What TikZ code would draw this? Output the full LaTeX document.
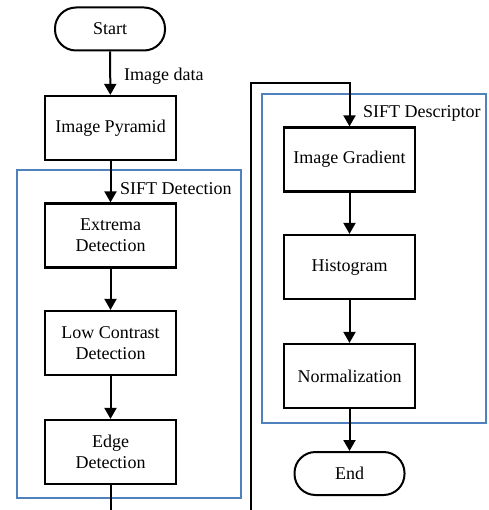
\documentclass[tikz,border=0pt]{standalone}
\usepackage{fontspec}
\setmainfont{Liberation Serif}
\usetikzlibrary{arrows.meta}
\definecolor{groupblue}{RGB}{79,129,189}
\tikzset{
  stepbox/.style={draw=black, line width=2.2pt, minimum width=131pt, minimum height=64pt,
    align=center, inner sep=0pt, font=\fontsize{18}{21}\selectfont},
  terminal/.style={draw=black, line width=2pt, rounded corners=21pt, minimum width=110pt,
    minimum height=43pt, inner sep=0pt, font=\fontsize{18}{21}\selectfont},
  group/.style={draw=groupblue, line width=2pt},
  flow/.style={line width=2pt, -{Triangle[length=11pt,width=12pt]}},
  wire/.style={line width=2pt},
  note/.style={inner sep=0pt, anchor=base west, font=\fontsize{18}{21}\selectfont}
}
\begin{document}
\begin{tikzpicture}[x=1pt,y=-1pt]
\useasboundingbox (0,0) rectangle (488,510);

% group frames
\draw[group] (17,170) rectangle (241,498);
\draw[group] (262,94) rectangle (486,423);

% left column: detection
\node[terminal] (start) at (110,29) {Start};
\node[stepbox]  (pyr)   at (110.5,128) {Image Pyramid};
\node[stepbox]  (ext)   at (110.5,235.5) {Extrema\\Detection};
\node[stepbox]  (low)   at (110.5,343) {Low Contrast\\Detection};
\node[stepbox]  (edge)  at (110.5,452) {Edge\\Detection};

% right column: descriptor
\node[stepbox]  (grad)  at (349.5,159.5) {Image Gradient};
\node[stepbox]  (hist)  at (349.5,267) {Histogram};
\node[stepbox]  (norm)  at (349.5,376) {Normalization};
\node[terminal] (end)   at (349.5,473.5) {End};

% labels
\node[note] (ldata) at (124,81) {Image data};
\node[note] (ldet)  at (120,195) {SIFT Detection};
\node[note] (ldesc) at (363,118) {SIFT Descriptor};

% connectors
\draw[flow] (start) -- (pyr);
\draw[flow] (pyr) -- (ext);
\draw[flow] (ext) -- (low);
\draw[flow] (low) -- (edge);
\coordinate (leftout) at (110.5,512);
\coordinate (rightin) at (251,512);
\coordinate (bend) at (251,83);
\draw[wire] (edge) -- (leftout);
\draw[flow] (rightin) -- (bend) -| (grad);
\draw[flow] (grad) -- (hist);
\draw[flow] (hist) -- (norm);
\draw[flow] (norm) -- (end);
\end{tikzpicture}
\end{document}
